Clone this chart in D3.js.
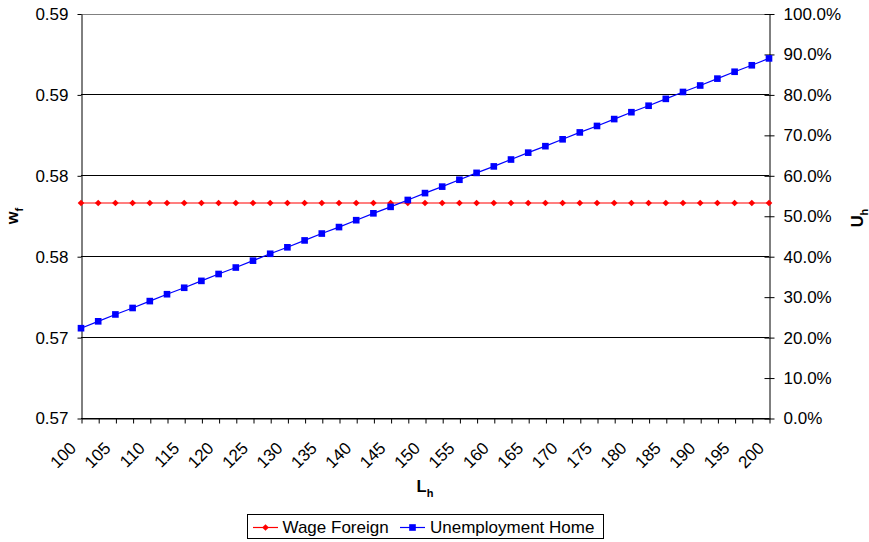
<!DOCTYPE html>
<html>
<head>
<meta charset="utf-8">
<script src="https://cdn.jsdelivr.net/npm/d3@7"></script>
<style>
  html, body { margin: 0; padding: 0; background: #fff; }
  svg { display: block; font-family: "Liberation Sans", Arial, sans-serif; }
</style>
</head>
<body>
<svg id="chart" width="869" height="542"></svg>
<script>
// Labour force at home (category axis, one point every 2.5)
const laborHome = [100, 102.5, 105, 107.5, 110, 112.5, 115, 117.5, 120, 122.5,
  125, 127.5, 130, 132.5, 135, 137.5, 140, 142.5, 145, 147.5,
  150, 152.5, 155, 157.5, 160, 162.5, 165, 167.5, 170, 172.5,
  175, 177.5, 180, 182.5, 185, 187.5, 190, 192.5, 195, 197.5, 200];

// Foreign wage (left axis)
const wageForeign = [0.58063, 0.58063, 0.58063, 0.58063, 0.58063, 0.58063, 0.58063, 0.58063, 0.58063, 0.58063,
  0.58063, 0.58063, 0.58063, 0.58063, 0.58063, 0.58063, 0.58063, 0.58063, 0.58063, 0.58063,
  0.58063, 0.58063, 0.58063, 0.58063, 0.58063, 0.58063, 0.58063, 0.58063, 0.58063, 0.58063,
  0.58063, 0.58063, 0.58063, 0.58063, 0.58063, 0.58063, 0.58063, 0.58063, 0.58063, 0.58063, 0.58063];

// Home unemployment rate (right axis)
const unemploymentHome = [0.222, 0.239, 0.256, 0.272, 0.289, 0.306, 0.322, 0.339, 0.356, 0.372,
  0.389, 0.406, 0.422, 0.439, 0.456, 0.472, 0.489, 0.506, 0.522, 0.539,
  0.556, 0.572, 0.589, 0.606, 0.622, 0.639, 0.656, 0.672, 0.689, 0.706,
  0.722, 0.739, 0.756, 0.772, 0.789, 0.806, 0.822, 0.839, 0.856, 0.872, 0.889];

// Axis tick values
const xTickLabels = [100, 105, 110, 115, 120, 125, 130, 135, 140, 145, 150,
  155, 160, 165, 170, 175, 180, 185, 190, 195, 200];
const leftTicks = [0.570, 0.574, 0.578, 0.582, 0.586, 0.590];
const rightTicks = [0, 0.1, 0.2, 0.3, 0.4, 0.5, 0.6, 0.7, 0.8, 0.9, 1.0];

const seriesNames = ["Wage Foreign", "Unemployment Home"];
const seriesColors = ["#ff0000", "#0000ff"];

const svg = d3.select("#chart");
const plot = { left: 81, right: 769, top: 13.5, bottom: 418 };
const fontSize = "17px";

const x = d3.scalePoint().domain(laborHome).range([plot.left, plot.right]);
const yL = d3.scaleLinear().domain([0.57, 0.59]).range([plot.bottom, plot.top]);
const yR = d3.scaleLinear().domain([0, 1]).range([plot.bottom, plot.top]);

// Horizontal gridlines at the left-axis ticks
svg.append("g")
  .selectAll("line")
  .data(leftTicks)
  .join("line")
  .attr("x1", plot.left).attr("x2", plot.right)
  .attr("y1", d => Math.round(yL(d)) + 0.5).attr("y2", d => Math.round(yL(d)) + 0.5)
  .attr("stroke", d => d === 0.590 ? "#808080" : "#000")
  .attr("stroke-width", 1);

// Left axis
const gLeft = svg.append("g")
  .attr("transform", `translate(${plot.left + 0.5},0.5)`)
  .call(d3.axisLeft(yL).tickValues(leftTicks).tickFormat(d3.format(".2f"))
    .tickSize(4).tickSizeOuter(0).tickPadding(9));
gLeft.selectAll("text").style("font-size", fontSize).attr("fill", "#000");

// Right axis (ticks cross the axis line)
const gRight = svg.append("g")
  .attr("transform", `translate(${plot.right + 0.5},0.5)`)
  .call(d3.axisRight(yR).tickValues(rightTicks).tickFormat(d3.format(".1%"))
    .tickSize(5).tickSizeOuter(0).tickPadding(9));
gRight.selectAll(".tick line").attr("x1", -5);
gRight.selectAll("text").style("font-size", fontSize).attr("fill", "#000");

// Bottom category axis
const labelSet = new Set(xTickLabels);
const gBottom = svg.append("g")
  .attr("transform", `translate(0.5,${plot.bottom + 0.5})`)
  .call(d3.axisBottom(x).tickSize(5).tickSizeOuter(0)
    .tickFormat(d => labelSet.has(d) ? String(d) : ""));
gBottom.selectAll("text")
  .style("font-size", fontSize)
  .attr("fill", "#000")
  .attr("text-anchor", "end")
  .attr("x", 0).attr("y", 0).attr("dy", "0.35em")
  .attr("transform", "translate(-9,26.5) rotate(-45)");

[gLeft, gRight, gBottom].forEach(g => {
  g.selectAll("path.domain").attr("stroke", "#000");
  g.selectAll(".tick line").attr("stroke", "#000");
});

// Series lines and markers
const lineL = d3.line().x((d, i) => x(laborHome[i])).y(d => yL(d));
const lineR = d3.line().x((d, i) => x(laborHome[i])).y(d => yR(d));

svg.append("path")
  .datum(wageForeign)
  .attr("d", lineL)
  .attr("fill", "none")
  .attr("stroke", seriesColors[0])
  .attr("stroke-width", 1.2);

svg.append("path")
  .datum(unemploymentHome)
  .attr("d", lineR)
  .attr("fill", "none")
  .attr("stroke", seriesColors[1])
  .attr("stroke-width", 1.2);

const diamond = d3.symbol().type(d3.symbolDiamond2).size(28);
const square = d3.symbol().type(d3.symbolSquare).size(44);

svg.append("g")
  .selectAll("path")
  .data(wageForeign)
  .join("path")
  .attr("d", diamond)
  .attr("transform", (d, i) => `translate(${x(laborHome[i])},${yL(d)})`)
  .attr("fill", seriesColors[0]);

svg.append("g")
  .selectAll("path")
  .data(unemploymentHome)
  .join("path")
  .attr("d", square)
  .attr("transform", (d, i) => `translate(${x(laborHome[i])},${yR(d)})`)
  .attr("fill", seriesColors[1]);

// Axis titles with subscripts
function subTitle(g, main, sub) {
  const t = g.append("text")
    .attr("text-anchor", "middle")
    .style("font-weight", "bold")
    .style("font-size", "16.5px")
    .attr("fill", "#000");
  t.append("tspan").text(main);
  t.append("tspan").text(sub).style("font-size", "11px").attr("dy", 5);
  return t;
}

subTitle(svg.append("g").attr("transform", `translate(${(plot.left + plot.right) / 2},492)`), "L", "h");
subTitle(svg.append("g").attr("transform", "translate(18,216) rotate(-90)"), "w", "f");
subTitle(svg.append("g").attr("transform", "translate(863,218) rotate(-90)"), "U", "h");

// Legend
const legend = svg.append("g");
legend.append("rect")
  .attr("x", 247.5).attr("y", 514.5)
  .attr("width", 356).attr("height", 24)
  .attr("fill", "#fff").attr("stroke", "#000");

const legendItems = [
  { x: 253, textX: 282.5, symbol: diamond },
  { x: 400, textX: 430, symbol: square }
];
legendItems.forEach((it, i) => {
  const ly = 527.5;
  legend.append("line")
    .attr("x1", it.x).attr("x2", it.x + 25)
    .attr("y1", ly).attr("y2", ly)
    .attr("stroke", seriesColors[i]).attr("stroke-width", 1.2);
  legend.append("path")
    .attr("d", it.symbol)
    .attr("transform", `translate(${it.x + 12.5},${ly})`)
    .attr("fill", seriesColors[i]);
  legend.append("text")
    .attr("x", it.textX).attr("y", 532.5)
    .style("font-size", fontSize)
    .attr("fill", "#000")
    .text(seriesNames[i]);
});
</script>
</body>
</html>
